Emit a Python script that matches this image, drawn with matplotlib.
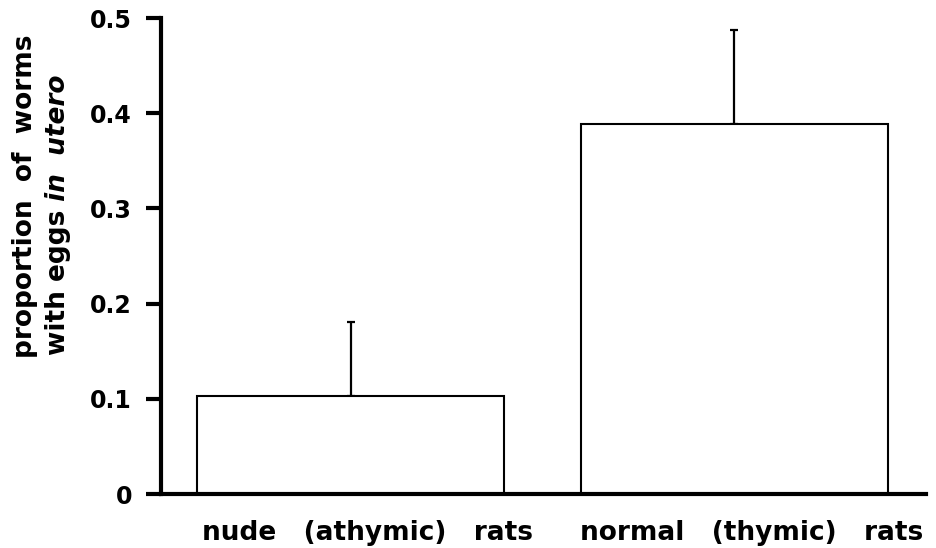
import matplotlib.pyplot as plt
import matplotlib.transforms as mtransforms
import numpy as np

# proportion of worms carrying eggs, nude vs normal rats
groups = ["nude   (athymic)   rats", "normal   (thymic)   rats"]
proportion = [0.103, 0.389]
upper_err = [0.078, 0.098]
y_ticks = [0, 0.1, 0.2, 0.3, 0.4, 0.5]
y_tick_labels = ["0", "0.1", "0.2", "0.3", "0.4", "0.5"]

plt.rcParams["font.family"] = ["DejaVu Sans"]
plt.rcParams["font.weight"] = "bold"

W, H = 937, 548
fig = plt.figure(figsize=(W / 100, H / 100), dpi=100)
ax = fig.add_axes([161 / W, (H - 494) / H, (926 - 161) / W, (494 - 18) / H])

x = np.arange(len(groups))
ax.bar(x, proportion, width=0.8, color="white", edgecolor="black",
       linewidth=1.5, zorder=2)
ax.errorbar(x, proportion, yerr=[np.zeros(len(x)), upper_err], fmt="none",
            ecolor="black", elinewidth=1.6, capsize=3, capthick=1.6, zorder=1)

ax.set_xlim(-0.494, 1.50)
ax.set_ylim(0, 0.5)
ax.set_yticks(y_ticks)
ax.set_yticklabels(y_tick_labels)
ax.set_xticks([])
ax.tick_params(axis="y", length=10.8, width=3, pad=10, labelsize=17)
for s in ["top", "right"]:
    ax.spines[s].set_visible(False)
for s in ["left", "bottom"]:
    ax.spines[s].set_linewidth(3)

# group names under the bars, sitting a little right of centre
trans = mtransforms.blended_transform_factory(ax.transData, fig.transFigure)
for i, g in enumerate(groups):
    ax.text(x[i] + 0.045, 1 - 540 / H, g, transform=trans, ha="center",
            va="baseline", fontsize=19)

# two-line y label, second line partly italic
fig.text(32 / W, 1 - 358 / H, "proportion  of  worms", rotation=90,
         rotation_mode="anchor", ha="left", va="baseline", fontsize=19)
t1 = fig.text(65 / W, 1 - 355 / H, "with eggs", rotation=90,
              rotation_mode="anchor", ha="left", va="baseline", fontsize=19)
fig.canvas.draw()
ext = t1.get_window_extent(fig.canvas.get_renderer())
fig.text(65 / W, ext.y1 / H, " in  utero", rotation=90,
         rotation_mode="anchor", ha="left", va="baseline", fontsize=19,
         style="italic")

fig.savefig("out.png", dpi=100)
